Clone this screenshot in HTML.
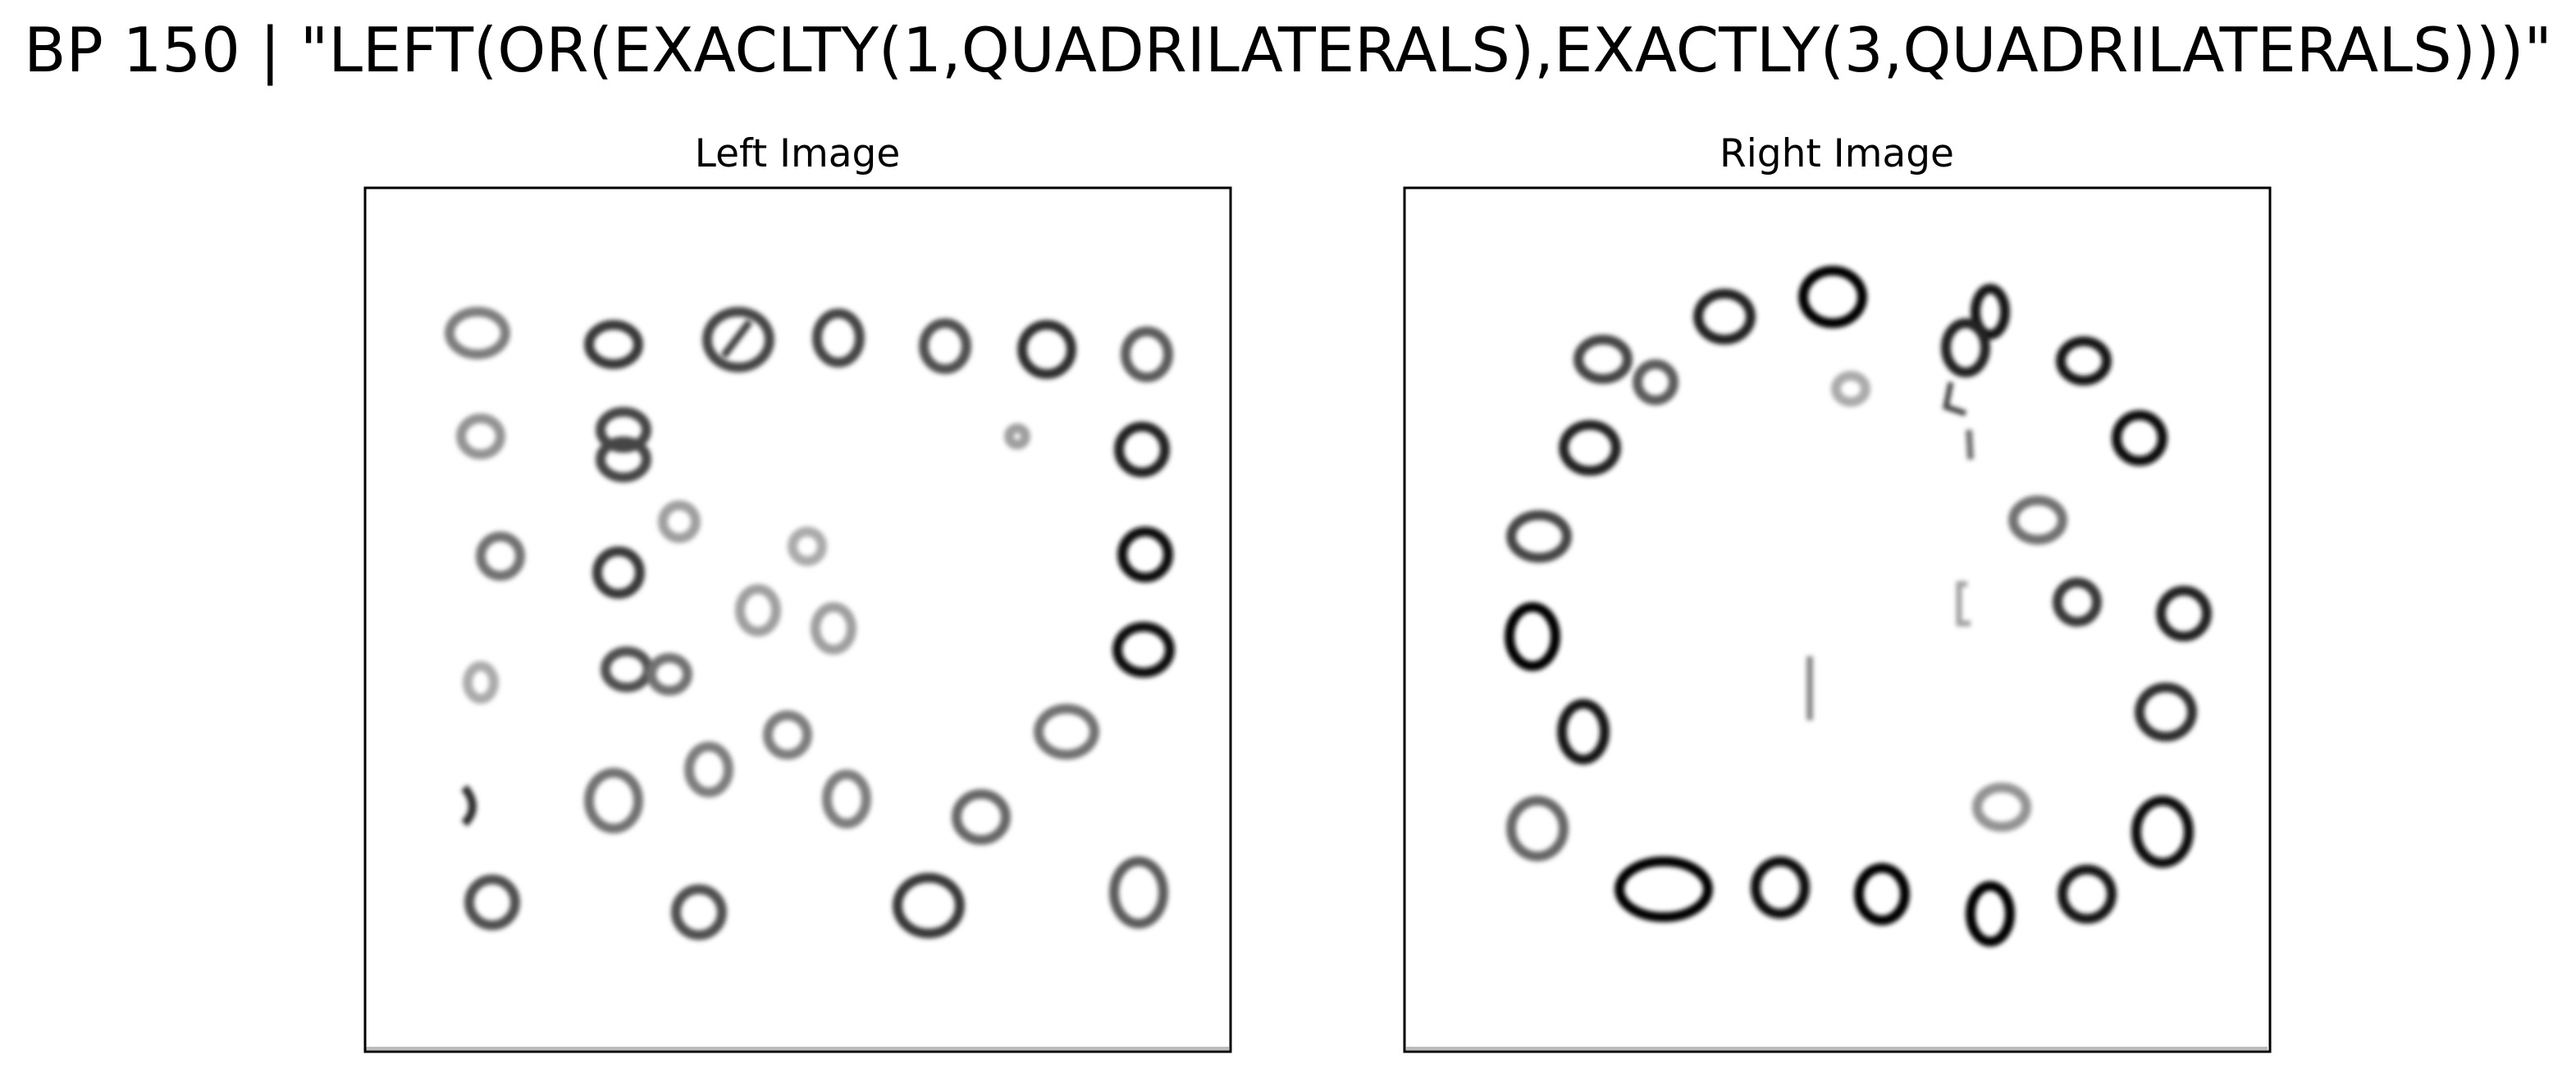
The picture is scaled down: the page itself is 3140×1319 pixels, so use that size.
<!DOCTYPE html>
<html><head><meta charset="utf-8"><style>
html,body{margin:0;padding:0;background:#fff;}
body{width:3140px;height:1315px;overflow:hidden;font-family:"DejaVu Sans","Liberation Sans",sans-serif;}
</style></head><body>
<svg width="3140" height="1315" viewBox="0 0 3140 1315" xmlns="http://www.w3.org/2000/svg">
<defs><filter id="bl" x="-20%" y="-20%" width="140%" height="140%"><feGaussianBlur stdDeviation="2.8"/></filter></defs>
<text x="1570" y="87" text-anchor="middle" font-size="75" font-family="DejaVu Sans, Liberation Sans, sans-serif">BP 150 | "LEFT(OR(EXACLTY(1,QUADRILATERALS),EXACTLY(3,QUADRILATERALS)))"</text>
<text x="972" y="203" text-anchor="middle" font-size="47" font-family="DejaVu Sans, Liberation Sans, sans-serif">Left Image</text>
<text x="2239" y="203" text-anchor="middle" font-size="47" font-family="DejaVu Sans, Liberation Sans, sans-serif">Right Image</text>
<g id="left" filter="url(#bl)"></g>
<g id="right" filter="url(#bl)"></g>
<line x1="446" y1="1278" x2="1498" y2="1278" stroke="#bbb" stroke-width="4"/>
<line x1="1714" y1="1278" x2="2764" y2="1278" stroke="#bbb" stroke-width="4"/>
<rect x="445" y="229" width="1055" height="1053" fill="none" stroke="#000" stroke-width="3"/>
<rect x="1712" y="229" width="1055" height="1053" fill="none" stroke="#000" stroke-width="3"/>
</svg>
<script>
// rings: [cx, cy, rx, ry, darkness] in half-scale screenshot units
const leftRings = [
[291,203,20,16,.45],[374,210,18,15,.75],[450,207,22,20,.7],[511,206,16,18,.7],[576,211,16,17,.65],[638,213,18,18,.8],[699,216,16,17,.6],
[293,266,15,14,.35],[380,262,17,14,.7],[380,280,17,14,.7],[620,266,8,8,.3],[696,274,17,17,.85],
[414,318,13,13,.3],[305,339,15,15,.5],[377,349,16,16,.75],[492,333,12,12,.25],[698,338,17,17,.95],
[462,372,14,16,.3],[508,383,14,16,.3],[697,396,19,17,.95],
[293,416,11,13,.25],[382,408,16,14,.65],[408,411,14,13,.5],
[480,448,15,15,.45],[650,446,20,17,.5],
[374,488,18,20,.5],[432,469,15,17,.45],[516,487,15,18,.45],[598,498,18,17,.55],
[300,550,17,17,.65],[426,556,17,17,.65],[566,552,22,20,.75],[694,544,18,22,.6]
];
const rightRings = [
[1051,193,19,17,.85],[1117,181,21,19,1],[1213,190,12,17,.9],[1198,212,15,18,.85],[1270,220,17,15,.9],[1304,267,17,17,.95],
[977,219,18,15,.7],[1009,233,14,14,.6],[969,273,19,17,.85],[1128,237,12,11,.25],
[938,327,20,16,.7],[1242,317,18,15,.5],[1266,367,15,15,.75],[1331,374,17,17,.85],
[934,388,17,21,1],[1320,434,19,18,.8],[965,446,16,20,.9],
[937,505,19,20,.55],[1220,492,18,15,.35],[1318,507,19,22,.95],
[1014,542,30,20,1],[1085,541,18,19,.95],[1147,545,17,19,1],[1213,557,15,20,1],[1272,545,18,18,.9]
];
const NS='http://www.w3.org/2000/svg';
function shade(d){const v=Math.round(255*(1-d)*0.85+10*(1-d));return `rgb(${v},${v},${v})`;}
function draw(gid, rings, name){
  const g=document.getElementById(gid);
  rings.forEach((r,i)=>{
    const e=document.createElementNS(NS,'ellipse');
    e.setAttribute('cx',r[0]*2);e.setAttribute('cy',r[1]*2);
    e.setAttribute('rx',r[2]*2-6);e.setAttribute('ry',r[3]*2-6);
    e.setAttribute('fill','none');e.setAttribute('stroke',shade(r[4]));e.setAttribute('stroke-width',12);
    
    
    g.appendChild(e);
  });
}
draw('left',leftRings,'left');
draw('right',rightRings,'right');
// small extra marks
const marks=[['left','M882,434 L914,392',.7,9],['left','M566,960 Q586,984 566,1004',.8,10],
['right','M2400,524 L2402,560',.5,8],['right','M2206,800 L2206,878',.4,8],['right','M2398,712 L2388,712 L2388,760 L2402,760',.3,7],['right','M2378,466 L2372,496 L2396,504',.7,7]];
marks.forEach(m=>{
  const p=document.createElementNS(NS,'path');
  p.setAttribute('d',m[1]);p.setAttribute('fill','none');p.setAttribute('stroke',shade(m[2]));p.setAttribute('stroke-width',m[3]);
  
  
  document.getElementById(m[0]).appendChild(p);
});
</script>
</body></html>
